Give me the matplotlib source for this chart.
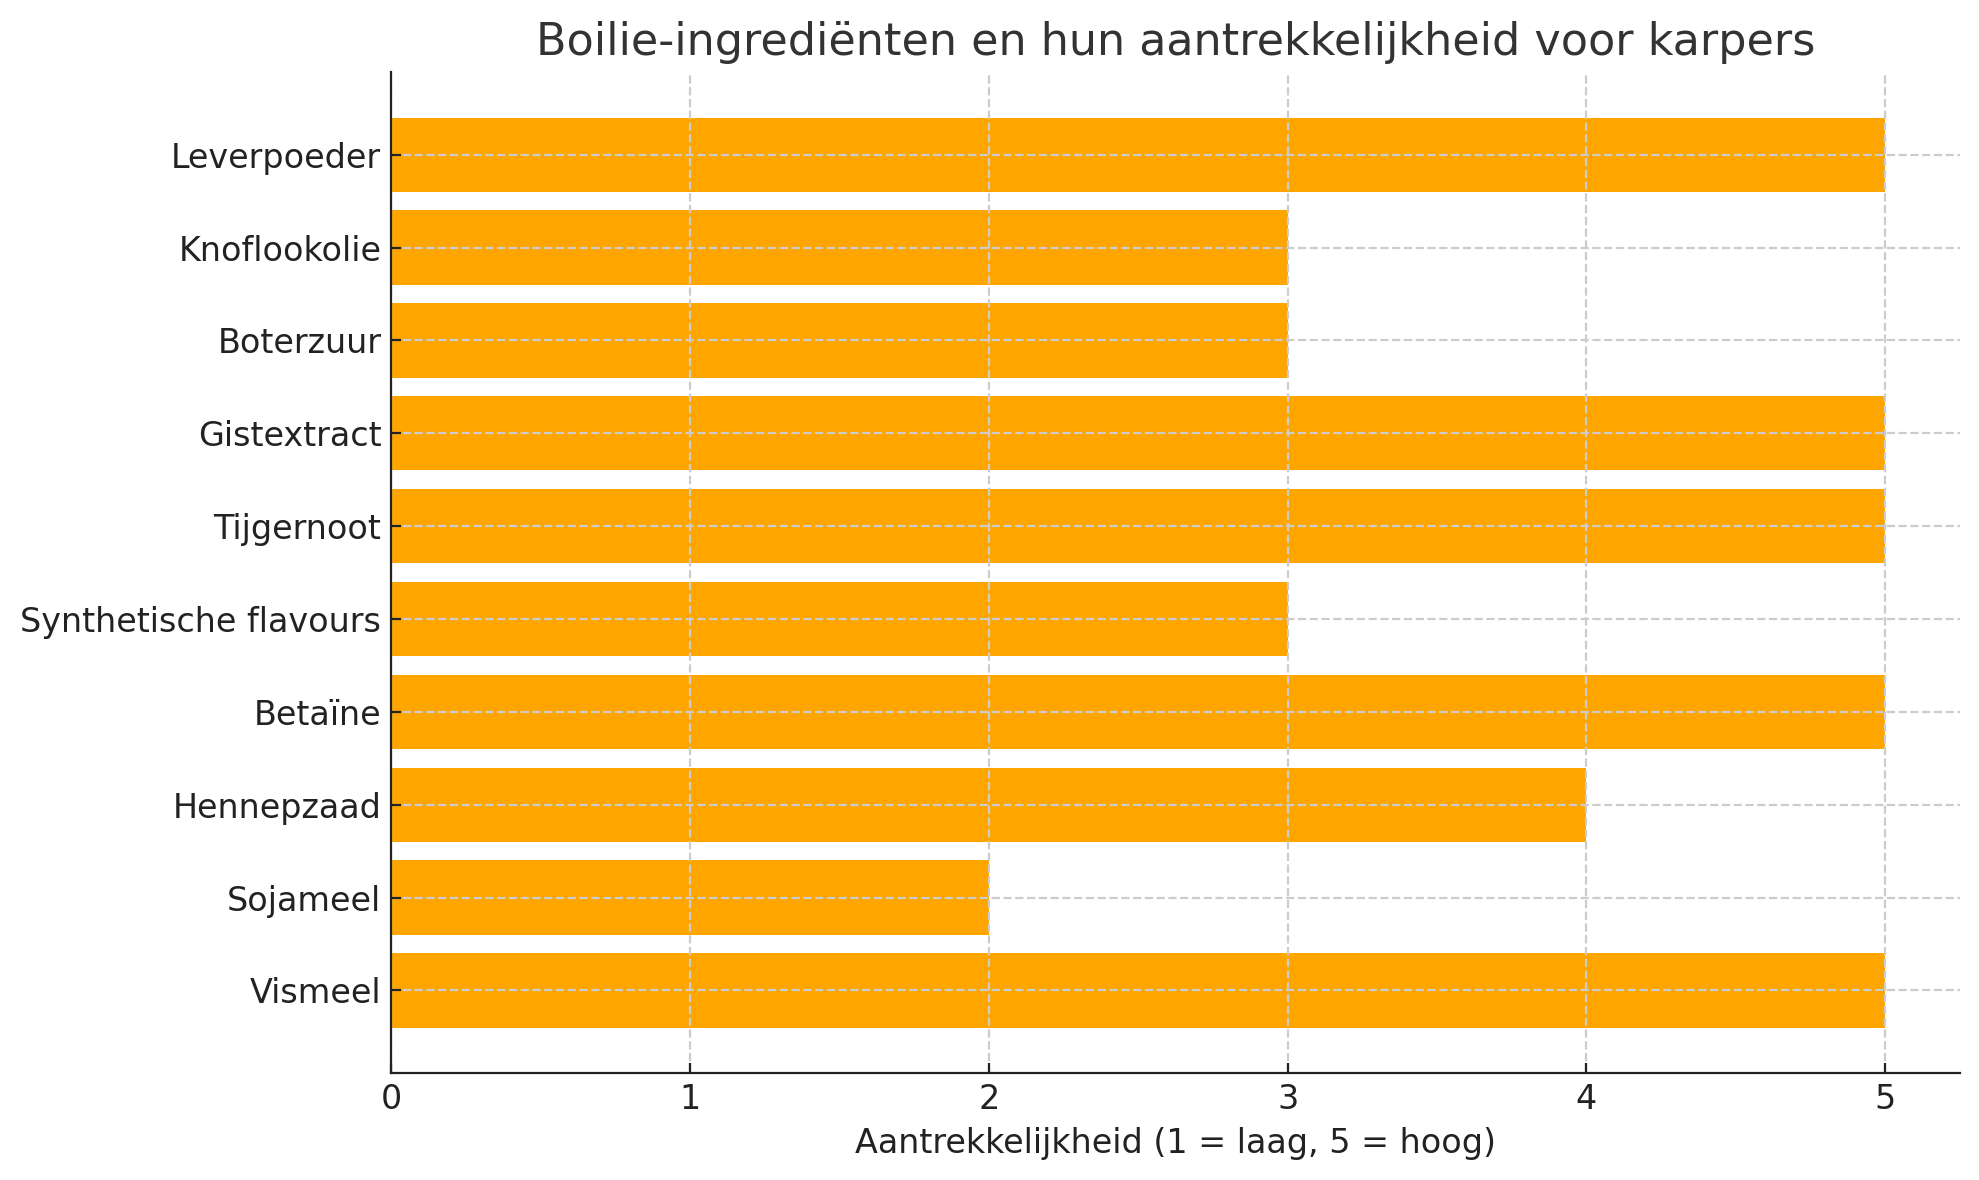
import matplotlib
matplotlib.use("Agg")
import matplotlib.pyplot as plt

ingredients = ["Vismeel", "Sojameel", "Hennepzaad", "Betaïne", "Synthetische flavours",
               "Tijgernoot", "Gistextract", "Boterzuur", "Knoflookolie", "Leverpoeder"]
scores = [5, 2, 4, 5, 3, 5, 5, 3, 3, 5]

title = "Boilie-ingrediënten en hun aantrekkelijkheid voor karpers"
xlabel = "Aantrekkelijkheid (1 = laag, 5 = hoog)"

fig = plt.figure(figsize=(9.895, 5.9), dpi=200)
ax = fig.add_axes([391/1979, 1 - 1073/1180, (1960-391)/1979, (1073-72)/1180])
ax.barh(ingredients, scores, color="#FFA500", height=0.8)
ax.set_xlim(0, 5.25)
ax.grid(True, linestyle="--", color="#cccccc", linewidth=0.8)
ax.set_axisbelow(False)
for s in ["top", "right"]:
    ax.spines[s].set_visible(False)
for s in ["left", "bottom"]:
    ax.spines[s].set_color("#222222")
    ax.spines[s].set_zorder(5)
ax.tick_params(labelsize=12, colors="#222222", direction="in")
ax.set_xlabel(xlabel, fontsize=12, color="#222222")
ax.set_title(title, fontsize=16, color="#333333")
fig.savefig("out.png", dpi=200)
